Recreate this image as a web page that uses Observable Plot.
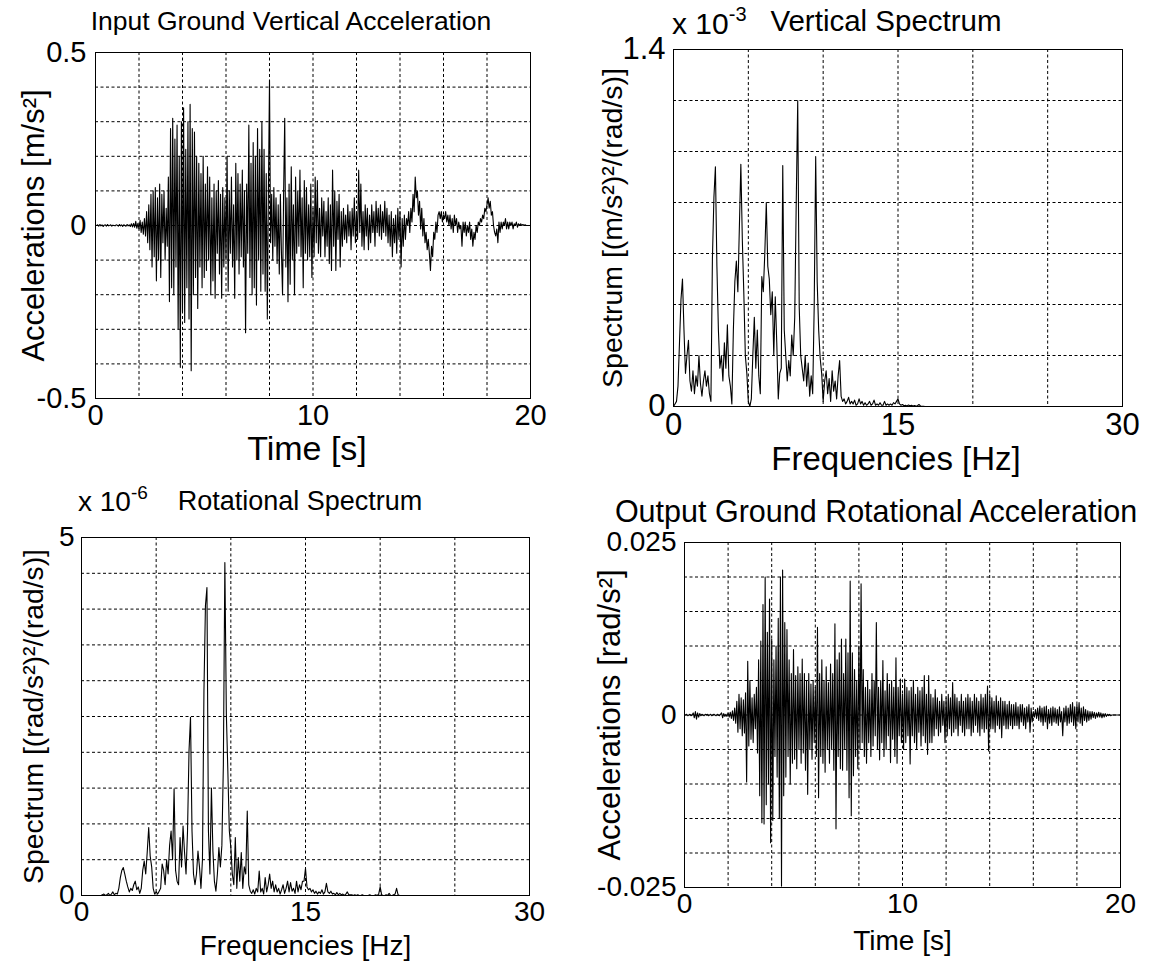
<!DOCTYPE html>
<html><head><meta charset="utf-8">
<script src="https://cdn.jsdelivr.net/npm/d3@7"></script>
<script src="https://cdn.jsdelivr.net/npm/@observablehq/plot@0.6"></script>
<style>
body{margin:0;background:#fff;}
#fig{position:relative;width:1149px;height:969px;font-family:"Liberation Sans",Arial,sans-serif;color:#000;overflow:hidden;background:#fff}
.panel{position:absolute}
.ttl{position:absolute;white-space:nowrap}
.ttl .sup{position:relative;vertical-align:baseline;line-height:1}
</style></head><body><div id="fig"></div>
<script>
// ---------- DATA ----------
// Input ground vertical acceleration, sampled every 0.05 s from 0 to 20 s, in 0.01 m/s^2
const inputAccelStep = 0.05;
const inputAccel = [
0,0,0.2,-0.2,0.3,-0.1,0.2,-0.3,0.1,0.2,-0.2,0.3,-0.1,0,0.2,-0.2,0.1,0,-0.1,0.2,
0.1,-0.2,0.3,-0.1,0.2,-0.3,0.2,0,-0.2,0.3,-0.1,0.2,-0.3,0.5,-0.4,0.6,-0.5,1.2,-0.8,0.6,
-1,1.5,-2,1,-2.5,2,-3,4,-5,6,-7,9,-12,10,-9,11,-16,8,-10,12,
-15,9,-5,10,-10,5,-6,14,-22,28,-18,31,-20,25,-12,29,-30,20,-41,30,
-25,34,-28,22,-18,30,-27,35,-42,28,-20,27,-15,20,-24,18,-12,15,-18,20,
-15,12,-13,17,-10,14,-20,8,-16,12,-21,10,-8,13,-14,9,-21,11,-12,8,
-10,20,-19,10,-8,14,-12,6,-21,18,-10,15,-14,12,-9,16,-12,10,-31,12,
-8,29,-15,18,-20,24,-18,20,-23,28,-10,22,-19,30,-14,22,-19,15,-27,10,
42,-5,9,-10,11,-6,8,-11,6,-14,9,-8,-20,10,31,-12,8,-22,12,-17,
17,-10,6,-20,14,-8,10,-6,16,-9,8,-18,13,-8,11,-10,6,-9,12,-15,
5,-9,14,-5,13,-8,5,-9,8,-3,7,-9,4,-6,8,-11,6,-13,16,-6,
10,-13,7,-4,9,-12,4,-6,5,-4,3,-5,6,-3,4,-7,5,-3,8,-5,
4,-4,16,-2,12,-6,4,-7,6,-3,5,-7,3,-5,6,-2,4,-6,7,-2,
5,-3,6,-4,4,-2,7,-3,5,-5,3,-6,4,-9,2,-5,3,-8,5,-4,
4,-12,2,-6,3,-4,2,0,4,-2,5,1,9,4,14,8,10,3,7,-1,
5,-3,2,-5,-2,-7,-4,-8,-13,-6,-9,-2,-4,1,-2,3,4,2,4,1,
3,2,4,1,3,0,3,-1,2,-2,3,0,2,-2,1,-1,0,-6,1,-2,
1,-3,0,-2,1,-4,-1,-6,-2,-4,0,-2,1,0,2,1,3,2,5,4,
6,8,5,7,3,4,0,-2,-3,-1,-5,1,-2,1,-1,1,0,2,-1,1,
-1,1,0,1,-1,0.5,0,1,-0.5,0.5,0,0.5,0,0.3,0,0.2,0,0,0,0,
0];

// Output ground rotational acceleration, every 0.05 s from 0 to 20 s, in 0.001 rad/s^2
const outputAccelStep = 0.05;
const outputAccel = [
0,0,0.1,-0.1,0,0.1,-0.1,0,0.3,-0.4,0.5,-0.6,0.3,-0.3,0.2,-0.1,0.1,0,-0.1,0.1,
0,0.1,-0.1,0,0.1,-0.1,0,0.1,0,-0.1,0.1,0,-0.1,0.1,0.3,-0.4,0.2,-0.2,0.1,-0.2,
0.3,-0.3,0.4,-0.5,0.6,-0.8,1,-1.2,2,-2.5,3,-2,2.5,-3,2.2,-2.6,3.2,-9.7,7.8,-4.5,
5,-3.5,2.5,-4,3,-2,4,-5.5,8,-11.7,10.7,-15.6,16,-15.8,20,-13,12,-10,16.8,-18.5,
11,-15.3,8,-6,10,-9,14,-15,20,-24.8,21,-11.7,13.4,-9,12.4,-6,8,-10,6,-7,
9.5,-6.4,5.7,-7.8,7,-5,6,-7,8.1,-5.5,6,-8,5,-11.5,6,-5,4.5,-6.4,5,-4,
4,-6,12.7,-12,6,-6,8,-7,5,-8.3,7,-5,4.7,-7,7.4,-5,6,-8,13.2,-16.5,
8,-6,9,-7.8,11,-8,6,-5,11,-8,9,-12,19.4,-14.6,9,-8.8,6.6,-6,5,-7.8,
10,-5,19,-4,6.6,-6,4,-7,5,-4,3.7,-6,6,-4.5,5,-3,13.4,-5,4,-6.5,
5,-4,7.9,-6,3.5,-5,6,-3,4.5,-6.9,5,-3.5,4,-6,8.3,-7,4,-3,5.2,-4,
3,-5,5.2,-4,4,-3,3.5,-7.1,4,-3,5,-4,3,-5,4,-2.5,3.5,-4.5,4,-3,
5.7,-4,3,-5.7,5.7,-4,3,-4,2.5,-3,3.7,-2,2.5,-3,2,-2.5,3,-1.5,2,-4,
2.5,-3,3,-2,2.5,-3,4.7,-2.5,3,-2,2.5,-3,2,-1.5,3,-2.5,2,-3,2.5,-2,
3,-2,2.5,-3,2,-2.5,3,-1.5,2.5,-2.5,2,-3,3,-2,2.5,-2.5,3,-2,4.2,-5.2,
3,-2,2.5,-2,2,-2.5,2.8,-1.5,2,-2,2.5,-3.3,2,-1.5,2,-2,1.5,-2,2,-1.5,
1.5,-2,1.5,-1.5,1.8,-1.5,1.2,-2,1.5,-1,1.5,-1.5,1,-2,1.2,-1,1.5,-2.5,1,-1,
0.5,-0.3,0.8,-0.5,1,-0.8,1.3,-1,1,-1.5,1.2,-1,1.3,-2,0.8,-1.2,1,-1.5,1.2,-1,
1,-1.2,0.8,-1.5,1.2,-1,0.5,-3,1,-1,1.3,-1.5,1,-1.2,1.5,-1,1.8,-1.5,1.2,-2,
1.5,-1,1.8,-1.2,1,-1.5,1.2,-0.8,0.8,-1,0.6,-0.8,0.5,-0.6,0.5,-0.4,0.4,-0.5,0.3,-0.3,
0.4,-0.3,0.3,-0.4,0.2,-0.3,0.2,-0.2,0.1,-0.1,0.1,-0.1,0,0,0,0,0,0,0,0,
0];

// Vertical spectrum, every 0.1 Hz from 0 to 17 Hz, in 1e-3 (m/s^2)^2/(rad/s); zero up to 30 Hz
const vertSpecStep = 0.1;
const vertSpec = [
0,0.01,0.02,0.08,0.25,0.42,0.5,0.3,0.13,0.2,
0.26,0.1,0.06,0.14,0.05,0.12,0.08,0.2,0.09,0.04,
0.1,0.14,0.08,0.12,0.05,0.02,0.58,0.82,0.94,0.55,
0.3,0.15,0.2,0.1,0.25,0.15,0.32,0.12,0.08,0.01,
0.3,0.49,0.57,0.45,0.7,0.95,0.65,0.44,0.2,0.13,
0.02,0,0.03,0.2,0.35,0.15,0.3,0.12,0.05,0.51,
0.45,0.6,0.8,0.55,0.5,0.36,0.45,0.2,0.43,0.25,
0.03,0.13,0.15,0.945,0.3,0.2,0.1,0.18,0.12,0.28,
0.2,0.35,0.8,1.2,0.39,0.2,0.15,0.1,0.2,0.08,
0.17,0.04,0.12,0.05,0.39,0.98,0.49,0.3,0.19,0.13,
0.02,0.1,0.14,0.05,0.11,0.02,0.14,0.06,0.1,0.03,
0.12,0.18,0.04,0.02,0.03,0.01,0.02,0.036,0.01,0.02,
0.01,0.025,0.005,0.01,0.03,0.01,0.02,0.005,0.015,0.005,
0.01,0.02,0.005,0.01,0.025,0.005,0.01,0.005,0.015,0.005,
0.005,0.02,0.005,0.01,0.005,0.01,0.005,0.015,0.01,0.02,
0.03,0.01,0.005,0.008,0.003,0.005,0.002,0.006,0.003,0.005,
0.002,0.004,0.002,0.003,0.008,0.002,0.001,0.001,0,0,
0];

// Rotational spectrum, every 0.1 Hz from 0 to 21.5 Hz, in 1e-6 (rad/s^2)^2/(rad/s); zero up to 30 Hz
const rotSpecStep = 0.1;
const rotSpec = [
0,0,0,0,0,0,0,0,0,0,
0,0,0,0,0.01,0.02,0,0.01,0.03,0,
0.02,0.05,0.01,0.03,0.02,0.1,0.25,0.35,0.39,0.3,
0.2,0.12,0.05,0.1,0.07,0.15,0.2,0.08,0.12,0.03,
0.1,0.35,0.48,0.3,0.6,0.95,0.55,0.4,0.1,0.02,
0.05,0.02,0.06,0.1,0.44,0.35,0.15,0.5,0.3,0.7,
0.9,0.5,1.49,0.35,0.2,0.15,0.81,0.4,0.97,0.6,
0.3,0.9,2.02,2.49,0.9,0.3,0.15,0.3,0.62,0.4,
0.1,0.5,2.86,4.05,4.3,0.9,0.3,1.5,0.62,0.2,
0.06,0.3,0.67,0.4,0.7,1.83,4.65,2.53,1.74,0.9,
0.67,0.3,0.15,0.81,0.1,0.53,0.2,0.6,0.1,0.4,
0.3,1.18,0.15,0.06,0.03,0.08,0.02,0.1,0.05,0.34,
0.05,0.1,0.02,0.25,0.05,0.15,0.3,0.1,0.2,0.05,
0.15,0.05,0.1,0.02,0.08,0.15,0.03,0.1,0.2,0.05,
0.18,0.06,0.1,0.03,0.2,0.05,0.15,0.08,0.2,0.2,
0.38,0.12,0.08,0.1,0.05,0.08,0.03,0.06,0.02,0.05,
0.03,0.08,0.02,0.05,0.17,0.05,0.03,0.06,0.02,0.03,
0.01,0.04,0.01,0.03,0.01,0.02,0,0.02,0.05,0.01,
0.01,0.01,0,0.01,0,0.01,0,0,0.01,0,
0,0,0,0.01,0,0,0,0.01,0,0.02,
0.12,0.01,0,0,0.01,0,0.03,0,0,0.01,
0.02,0.1,0.01,0,0,0];

// tick values
const timeTicks = [0, 10, 20];
const freqTicks = [0, 15, 30];
const inputAccelTicks = [-0.5, 0, 0.5];
const vertSpecTicks = [0, 1.4];
const rotSpecTicks = [0, 5];
const outputAccelTicks = [-0.025, 0, 0.025];
const timeGrid = [2, 4, 6, 8, 10, 12, 14, 16, 18];
const freqGrid = [5, 10, 15, 20, 25];
const inputAccelGrid = [-0.4, -0.3, -0.2, -0.1, 0, 0.1, 0.2, 0.3, 0.4];
const vertSpecGrid = [0.2, 0.4, 0.6, 0.8, 1.0, 1.2];
const rotSpecGrid = [0.5, 1, 1.5, 2, 2.5, 3, 3.5, 4, 4.5];
const outputAccelGrid = [-0.02, -0.015, -0.01, -0.005, 0, 0.005, 0.01, 0.015, 0.02];

// ---------- build tables ----------
const seriesTable = (vals, step, unit, endX) => {
  const rows = vals.map((v, i) => ({x: Math.round(i * step * 1000) / 1000, y: v * unit}));
  if (endX !== undefined && rows[rows.length - 1].x < endX) rows.push({x: endX, y: 0});
  return rows;
};
const inputTable = seriesTable(inputAccel, inputAccelStep, 0.01);
const outputTable = seriesTable(outputAccel, outputAccelStep, 0.001);
const vertTable = seriesTable(vertSpec, vertSpecStep, 1, 30);
const rotTable = seriesTable(rotSpec, rotSpecStep, 1, 30);

const FONT = '"Liberation Sans", Arial, Helvetica, sans-serif';
const fmt = d => String(d);
const gridStyle = {stroke: "#000", strokeOpacity: 1, strokeWidth: 1, strokeDasharray: "3,2.5"};

function panel(o) {
  return Plot.plot({
    width: o.w, height: o.h,
    marginLeft: o.ml, marginRight: o.mr, marginTop: o.mt, marginBottom: o.mb,
    style: {fontFamily: FONT, background: "transparent", color: "#000", overflow: "visible"},
    x: {domain: o.xd, label: null},
    y: {domain: o.yd, label: null},
    marks: [
      Plot.gridX(o.xg, gridStyle),
      Plot.gridY(o.yg, gridStyle),
      Plot.line(o.data, {x: "x", y: "y", stroke: "#000", strokeWidth: 1.1, clip: true}),
      Plot.frame({stroke: "#000", strokeWidth: 1}),
      Plot.axisX(o.xt, {tickSize: 0, tickPadding: o.xpad, fontSize: o.tfs, tickFormat: fmt, label: null}),
      Plot.axisY(o.yt, {tickSize: 0, tickPadding: o.ypad, fontSize: o.tfs, tickFormat: fmt, label: null}),
      Plot.text([o.xlabel], {text: d => d, frameAnchor: "bottom", textAnchor: "middle", dx: o.xldx || 0, dy: o.xldy, fontSize: o.xfs, lineAnchor: "middle"}),
      Plot.text([o.ylabel], {text: d => d, frameAnchor: "left", textAnchor: "middle", dx: o.yldx, dy: o.yldy || 0, rotate: -90, fontSize: o.yfs, lineAnchor: "middle"})
    ]
  });
}

const fig = document.getElementById("fig");
function place(node, left, top) {
  const d = document.createElement("div");
  d.className = "panel"; d.style.left = left + "px"; d.style.top = top + "px";
  d.appendChild(node); fig.appendChild(d);
}
function title(text, x, baseline, fs, align, sup, supFs, supRise) {
  const d = document.createElement("div");
  d.className = "ttl";
  d.style.fontSize = fs + "px"; d.style.lineHeight = fs + "px";
  d.appendChild(document.createTextNode(text));
  if (sup) {
    const s = document.createElement("span");
    s.className = "sup"; s.textContent = sup;
    s.style.fontSize = supFs + "px"; s.style.top = (-supRise) + "px";
    d.appendChild(s);
  }
  d.style.top = (baseline - 0.85 * fs) + "px";
  d.style.left = x + "px";
  if (align === "center") d.style.transform = "translateX(-50%)";
  fig.appendChild(d);
}

place(panel({w: 560, h: 480, ml: 95, mr: 30, mt: 52, mb: 82, xd: [0, 20], yd: [-0.5, 0.5],
  xg: timeGrid, yg: inputAccelGrid, xt: timeTicks, yt: inputAccelTicks, data: inputTable,
  tfs: 29, xpad: 6, ypad: 9,
  xlabel: "Time [s]", xfs: 34, xldx: -6, xldy: 51, ylabel: "Accelerations [m/s²]", yfs: 31, yldx: -61}), 0, 0);

place(panel({w: 569, h: 480, ml: 93, mr: 27, mt: 49, mb: 74, xd: [0, 30], yd: [0, 1.4],
  xg: freqGrid, yg: vertSpecGrid, xt: freqTicks, yt: vertSpecTicks, data: vertTable,
  tfs: 31, xpad: 6, ypad: 8,
  xlabel: "Frequencies [Hz]", xfs: 33, xldx: -2, xldy: 53, ylabel: "Spectrum [(m/s²)²/(rad/s)]", yfs: 28.5, yldx: -61}), 580, 0);

place(panel({w: 560, h: 489, ml: 81, mr: 31, mt: 57, mb: 74, xd: [0, 30], yd: [0, 5],
  xg: freqGrid, yg: rotSpecGrid, xt: freqTicks, yt: rotSpecTicks, data: rotTable,
  tfs: 28, xpad: 6, ypad: 7,
  xlabel: "Frequencies [Hz]", xfs: 28, xldy: 51, ylabel: "Spectrum [(rad/s²)²/(rad/s)]", yfs: 28.3, yldx: -48}), 0, 480);

place(panel({w: 569, h: 489, ml: 104, mr: 29, mt: 62, mb: 82, xd: [0, 20], yd: [-0.025, 0.025],
  xg: timeGrid, yg: outputAccelGrid, xt: timeTicks, yt: outputAccelTicks, data: outputTable,
  tfs: 28, xpad: 6, ypad: 8,
  xlabel: "Time [s]", xfs: 28, xldy: 54, ylabel: "Accelerations [rad/s²]", yfs: 31, yldx: -74}), 580, 480);

title("Input Ground Vertical Acceleration", 291, 31, 26.5, "center");
title("x 10", 672, 34, 30, "left", "-3", 20, 13);
title("Vertical Spectrum", 886, 31, 29.5, "center");
title("x 10", 78, 512, 28, "left", "-6", 19, 12);
title("Rotational Spectrum", 300, 511, 27, "center");
title("Output Ground Rotational Acceleration", 876, 522, 30.5, "center");
</script></body></html>
